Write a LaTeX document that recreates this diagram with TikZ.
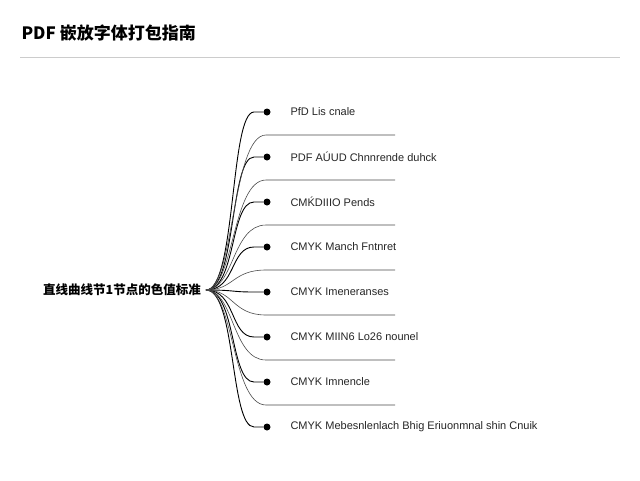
\documentclass[tikz,border=0pt]{standalone}
\usepackage{fontspec}
\setmainfont{Liberation Sans}
\newfontfamily\cjk{Noto Sans CJK SC}
\begin{document}
\begin{tikzpicture}[x=1pt,y=-1pt,
  lbl/.style={anchor=west,font=\fontsize{11}{13}\selectfont,text=black!85},
  br/.style={black,line width=0.9pt},
  sep/.style={black!70,line width=0.6pt},
  dot/.style={circle,fill=black,inner sep=0pt,minimum size=7pt}]
\useasboundingbox[fill=white] (0,0) rectangle (640,480);
\node[anchor=west,font=\cjk\bfseries\fontsize{17}{20}\selectfont] (title) at (18,33) {PDF 嵌放字体打包指南};
\draw[black!20,line width=0.8pt] (20,57) -- (620,57);
\node[anchor=east,font=\cjk\bfseries\fontsize{12.5}{14}\selectfont,inner sep=2pt] (root) at (203,290) {直线曲线节1节点的色值标准};
\coordinate (r) at (206,290);
\foreach \i/\y/\t in {1/112/PfD Lis cnale,2/157/PDF A\'UUD Chnnrende duhck,3/202/CM\'KDIIIO Pends,4/247/CMYK Manch Fntnret,5/292/CMYK Imeneranses,6/337/CMYK MIIN6 Lo26 nounel,7/382/CMYK Imnencle,8/427/CMYK Mebesnlenlach Bhig Eriuonmnal shin Cnuik}{
  \node[dot] (d\i) at (267,\y) {};
  \node[lbl] (t\i) at (287,\y) {\t};
  \draw[br] (r) .. controls (236,290) and (230,\y) .. (254,\y) -- (d\i);
}
\foreach \j/\y in {1/135,2/180,3/225,4/270,5/315,6/360,7/405}{
  \coordinate (s\j) at (395,\y);
  \draw[sep] (r) .. controls (234,290) and (232,\y) .. (266,\y) -- (s\j);
}
\end{tikzpicture}
\end{document}
